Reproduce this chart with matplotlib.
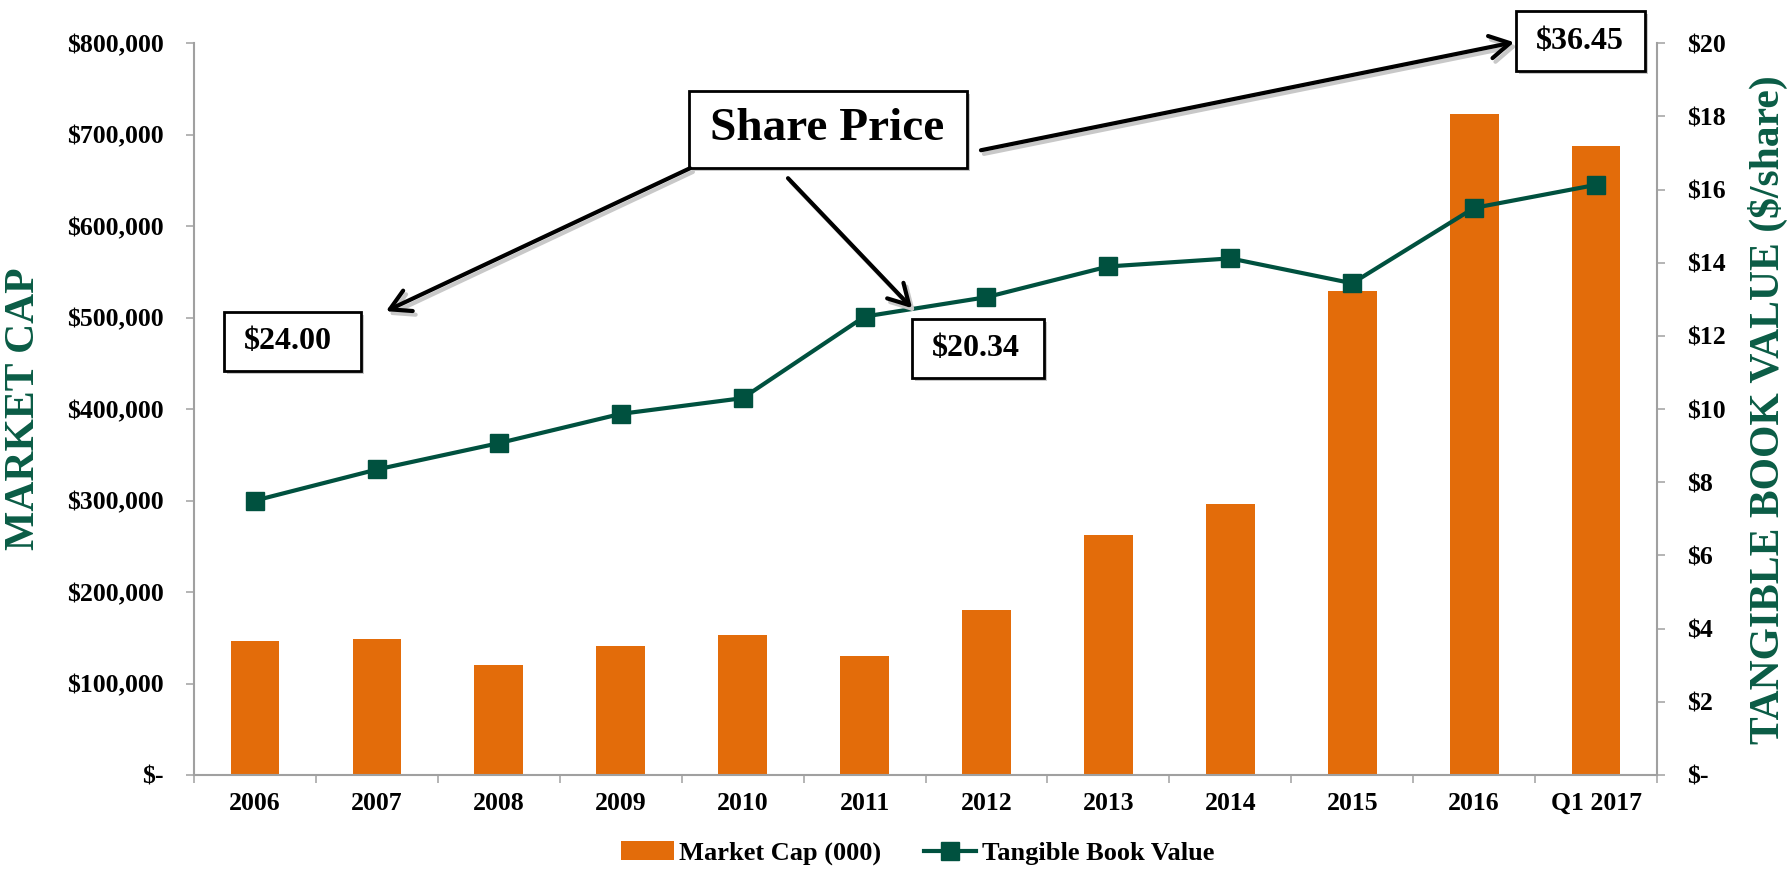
import matplotlib.pyplot as plt
from matplotlib.patches import Rectangle, FancyArrowPatch
from matplotlib.ticker import FuncFormatter, FixedLocator

# data
categories = ['2006', '2007', '2008', '2009', '2010', '2011', '2012',
              '2013', '2014', '2015', '2016', 'Q1 2017']
market_cap = [147000, 149000, 120000, 141000, 152500, 130500, 180000,
              262000, 296500, 529000, 723000, 688000]
tangible_bv = [7.50, 8.35, 9.07, 9.87, 10.30, 12.53, 13.06,
               13.90, 14.12, 13.44, 15.50, 16.13]
price_labels = ['$24.00', '$20.34', '$36.45']

ORANGE = '#E36C0A'
GREEN = '#00513F'
LABEL_GREEN = '#0A5C45'
GRAY = '#A0A0A0'
FONT = 'Liberation Serif'

plt.rcParams['font.family'] = FONT
plt.rcParams['font.weight'] = 'bold'

fig = plt.figure(figsize=(17.9, 8.69), dpi=100)
ax = fig.add_axes([0.1084, 0.1082, 0.8173, 0.8420])
ax2 = ax.twinx()

x = [i + 0.5 for i in range(len(categories))]
bars = ax.bar(x, market_cap, width=0.40, color=ORANGE, label='Market Cap (000)', zorder=2)
line, = ax2.plot(x, tangible_bv, color=GREEN, lw=3.0, marker='s', markersize=13.5,
                 label='Tangible Book Value', zorder=3)

ax.set_xlim(0, len(categories))
ax.set_ylim(0, 800000)
ax2.set_ylim(0, 20)
ax.set_yticks(range(0, 800001, 100000))
ax2.set_yticks(range(0, 21, 2))


def money_big(v, pos):
    return '$-' if v == 0 else '${:,.0f}'.format(v)


def money_small(v, pos):
    return '$-' if v == 0 else '${:.0f}'.format(v)


ax.yaxis.set_major_formatter(FuncFormatter(money_big))
ax2.yaxis.set_major_formatter(FuncFormatter(money_small))

# category boundaries as ticks, labels centred between them
ax.xaxis.set_major_locator(FixedLocator(range(len(categories) + 1)))
ax.xaxis.set_minor_locator(FixedLocator(x))
ax.set_xticklabels([])
ax.set_xticklabels(categories, minor=True)
ax.tick_params(axis='x', which='minor', length=0, pad=12, labelsize=18.5)
ax.tick_params(axis='x', which='major', length=6, width=1.1, color=GRAY)
ax.tick_params(axis='y', length=6, width=1.1, color=GRAY, pad=16, labelsize=18.5)
ax2.tick_params(axis='y', length=6, width=1.1, color=GRAY, pad=16, labelsize=18.5)

for a in (ax, ax2):
    for s in a.spines.values():
        s.set_visible(False)
ax.spines['left'].set_visible(True)
ax.spines['bottom'].set_visible(True)
ax2.spines['right'].set_visible(True)
for s in (ax.spines['left'], ax.spines['bottom'], ax2.spines['right']):
    s.set_color(GRAY)
    s.set_linewidth(1.5)

fig.text(0.0134, 0.5292, 'MARKET CAP', rotation=90, ha='center', va='center',
         fontsize=30, color=LABEL_GREEN, fontweight='bold')
fig.text(0.9877, 0.5282, 'TANGIBLE BOOK VALUE ($/share)', rotation=90, ha='center',
         va='center', fontsize=30, color=LABEL_GREEN, fontweight='bold')

# annotation boxes (axes fraction)
boxes = [
    ((0.3383, 0.8292), 0.1901, 0.1059, 'Share Price', (0.4330, 0.8822), 34),
    ((0.0205, 0.5519), 0.0936, 0.0806, price_labels[0], (0.0639, 0.5922), 23),
    ((0.4908, 0.5423), 0.0902, 0.0807, price_labels[1], (0.5345, 0.5827), 23),
    ((0.9036, 0.9624), 0.0882, 0.0813, price_labels[2], (0.9470, 1.0031), 23),
]
for (bx, by), bw, bh, txt, (tx, ty), fs in boxes:
    ax2.add_patch(Rectangle((bx + 0.002, by - 0.004), bw, bh, transform=ax2.transAxes,
                            facecolor='#C8C8C8', edgecolor='none', clip_on=False, zorder=4))
    ax2.add_patch(Rectangle((bx, by), bw, bh, transform=ax2.transAxes, facecolor='white',
                            edgecolor='black', lw=2.0, clip_on=False, zorder=5))
    ax2.text(tx, ty, txt, transform=ax2.transAxes, ha='center', va='center',
             fontsize=fs, fontweight='bold', zorder=6)

arrows = [
    ((0.3390, 0.8292), (0.1312, 0.6339)),
    ((0.4060, 0.8156), (0.4908, 0.6380)),
    ((0.5379, 0.8538), (0.9023, 1.0014)),
]
for start, end in arrows:
    shadow = FancyArrowPatch((start[0] + 0.002, start[1] - 0.005), (end[0] + 0.002, end[1] - 0.005),
                             transform=ax2.transAxes, arrowstyle='->,head_length=0.8,head_width=0.45',
                             mutation_scale=18, lw=3.0, color='#C8C8C8', clip_on=False, zorder=4,
                             shrinkA=0, shrinkB=0)
    arr = FancyArrowPatch(start, end, transform=ax2.transAxes,
                          arrowstyle='->,head_length=0.8,head_width=0.45',
                          mutation_scale=18, lw=3.0, color='black', clip_on=False, zorder=5,
                          shrinkA=0, shrinkB=0)
    ax2.add_patch(shadow)
    ax2.add_patch(arr)

fig.legend([bars, line], ['Market Cap (000)', 'Tangible Book Value'], loc='center',
           bbox_to_anchor=(0.5126, 0.018), ncol=2, frameon=False, fontsize=19,
           handlelength=2.0, handletextpad=0.2, columnspacing=1.6)

fig.savefig('out.png', dpi=100)
